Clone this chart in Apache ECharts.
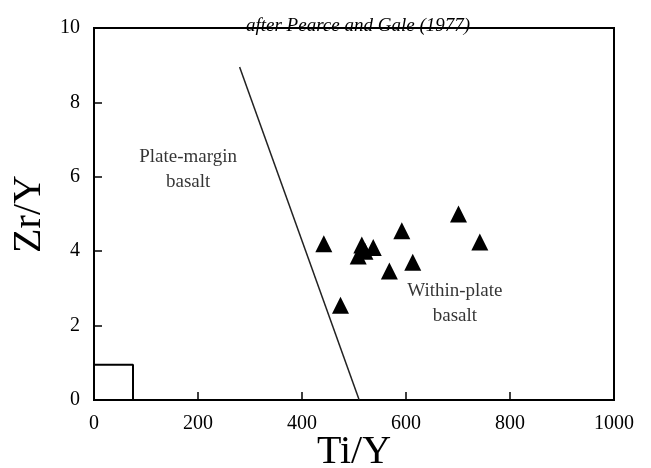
<!DOCTYPE html>
<html>
<head>
<meta charset="utf-8">
<script src="https://cdn.jsdelivr.net/npm/echarts@6/dist/echarts.min.js"></script>
<style>
  html, body { margin: 0; padding: 0; background: #fff; }
  #chart { width: 651px; height: 468px; }
</style>
</head>
<body>
<div id="chart"></div>
<script>
// Ti/Y vs Zr/Y samples
const tiY = [442, 474, 508, 515, 521, 537, 568, 592, 613, 701, 742]
const zrY = [4.2, 2.55, 3.87, 4.17, 4.0, 4.1, 3.47, 4.55, 3.7, 5.0, 4.25]

// discriminant line and the small box at the origin
const boundaryX = [280, 510]
const boundaryY = [8.95, 0]
const boxX = [0, 75, 75]
const boxY = [0.95, 0.95, 0]

// field labels
const fieldNames = ['Plate-margin\nbasalt', 'Within-plate\nbasalt']
const fieldX = [181, 694]
const fieldY = [6.2, 2.6]

const serif = 'Liberation Serif'

const chart = echarts.init(document.getElementById('chart'))

chart.setOption({
  animation: false,
  title: {
    text: 'after Pearce and Gale (1977)',
    left: 353,
    top: 11,
    textAlign: 'center',
    textStyle: { fontFamily: serif, fontStyle: 'italic', fontWeight: 'normal', fontSize: 19, color: '#000' }
  },
  grid: {
    left: 94, right: 37, top: 28, bottom: 68,
    outerBoundsMode: 'none',
    show: true, borderColor: '#000', borderWidth: 2
  },
  xAxis: {
    type: 'value', min: 0, max: 1000, interval: 200,
    name: 'Ti/Y', nameLocation: 'middle', nameGap: 32, nameMoveOverlap: false,
    nameTextStyle: { fontFamily: serif, fontSize: 40, color: '#000' },
    axisLine: { lineStyle: { color: '#000', width: 2 } },
    axisTick: { inside: true, length: 8, lineStyle: { color: '#000', width: 1.5 } },
    axisLabel: { fontFamily: serif, fontSize: 20, color: '#000', margin: 14, formatter: v => String(v) },
    splitLine: { show: false }
  },
  yAxis: {
    type: 'value', min: 0, max: 10, interval: 2,
    name: 'Zr/Y', nameLocation: 'middle', nameGap: 42,
    nameTextStyle: { fontFamily: serif, fontSize: 40, color: '#000' },
    axisLine: { show: true, lineStyle: { color: '#000', width: 2 } },
    axisTick: { show: true, inside: true, length: 8, lineStyle: { color: '#000', width: 1.5 } },
    axisLabel: { fontFamily: serif, fontSize: 20, color: '#000', margin: 14 },
    splitLine: { show: false }
  },
  series: [
    {
      type: 'line',
      data: boundaryX.map((x, i) => [x, boundaryY[i]]),
      symbol: 'none',
      lineStyle: { color: '#222', width: 1.5 }
    },
    {
      type: 'line',
      data: boxX.map((x, i) => [x, boxY[i]]),
      symbol: 'none',
      lineStyle: { color: '#000', width: 2 }
    },
    {
      type: 'scatter',
      data: tiY.map((x, i) => [x, zrY[i]]),
      symbol: 'triangle',
      symbolSize: 17,
      itemStyle: { color: '#000', opacity: 1 }
    },
    {
      type: 'scatter',
      data: fieldX.map((x, i) => ({ value: [x, fieldY[i]], name: fieldNames[i] })),
      symbolSize: 0,
      silent: true,
      label: {
        show: true, position: 'inside', formatter: p => p.name,
        fontFamily: serif, fontSize: 19, lineHeight: 25, color: '#000', align: 'center'
      }
    }
  ]
})
</script>
</body>
</html>
